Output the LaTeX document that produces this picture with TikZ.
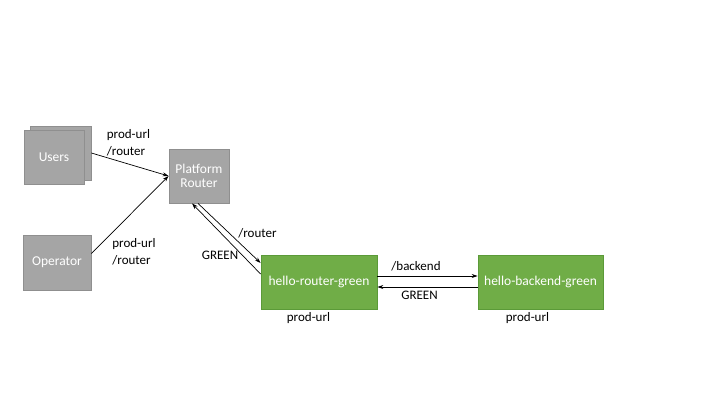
\documentclass[tikz,border=0pt]{standalone}
\usepackage{fontspec}
\setmainfont{Carlito}
\usetikzlibrary{arrows.meta}
\definecolor{grayfill}{HTML}{A5A5A5}
\definecolor{grayline}{HTML}{8F8F8F}
\definecolor{greenfill}{HTML}{70AD47}
\definecolor{greenline}{HTML}{5B9A38}
\begin{document}
\begin{tikzpicture}[x=1pt,y=-1pt,
  graybox/.style={draw=grayline,fill=grayfill,line width=0.8pt,text=white,inner sep=0pt,font=\fontsize{13.5}{15}\selectfont,align=center},
  greenbox/.style={draw=greenline,fill=greenfill,line width=0.8pt,text=white,inner sep=0pt,font=\fontsize{13.5}{15}\selectfont,align=center,minimum height=54pt},
  lbl/.style={inner sep=0pt,font=\fontsize{13}{17}\selectfont,align=left},
  conn/.style={line width=0.7pt,-{Stealth[length=6pt,width=4pt]}}]
\useasboundingbox (0,0) rectangle (720,405);
% Users (stacked)
\node[graybox,minimum width=61pt,minimum height=54pt] (usersback) at (60.5,153) {};
\node[graybox,minimum width=60pt,minimum height=54pt] (users) at (54,157) {Users};
\node[graybox,minimum width=68pt,minimum height=55pt] (operator) at (57,262.5) {Operator};
\node[graybox,minimum width=60pt,minimum height=54pt] (router) at (199,176) {Platform\\[-1pt]Router};
\node[greenbox,minimum width=116pt] (hrg) at (319,282) {hello-router-green};
\node[greenbox,minimum width=125pt] (hbg) at (540.5,282) {hello-backend-green};
% connectors
\draw[conn] (usersback.east) -- (router.west);
\draw[conn] ([yshift=9pt]operator.east) -- (router.west);
\draw[conn] ([xshift=-1pt]router.south) -- ([yshift=19pt]hrg.west);
\draw[conn] ([yshift=8pt]hrg.west) -- ([xshift=-7pt]router.south);
\draw[conn] ([yshift=6pt]hrg.east) -- ([yshift=6pt]hbg.west);
\draw[conn] ([yshift=-5pt]hbg.west) -- ([yshift=-5pt]hrg.east);
% labels
\node[lbl] (l1) at (128.5,142.5) {prod-url\\/router};
\node[lbl] (l2) at (134,251.5) {prod-url\\/router};
\node[lbl] (l3) at (257.5,233) {/router};
\node[lbl] (l4) at (220,255) {GREEN};
\node[lbl] (l5) at (416,266) {/backend};
\node[lbl] (l6) at (419.5,295) {GREEN};
\node[lbl] (l7) at (308.5,318) {prod-url};
\node[lbl] (l8) at (527.5,318) {prod-url};
\end{tikzpicture}
\end{document}
